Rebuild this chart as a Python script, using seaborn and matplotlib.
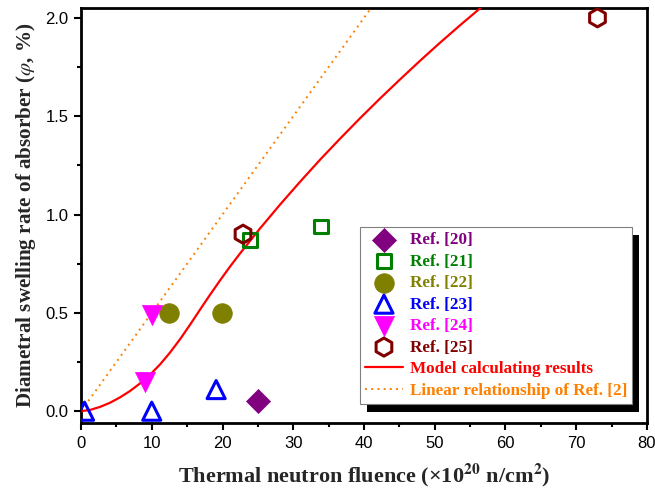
import numpy as np
import pandas as pd
import seaborn as sns
import matplotlib
matplotlib.use("Agg")
import matplotlib.pyplot as plt
from matplotlib.ticker import MultipleLocator
from matplotlib.patches import Rectangle

# Measured swelling data from the literature
ref20_x = [25.0]
ref20_y = [0.05]
ref21_x = [23.9, 33.9]
ref21_y = [0.87, 0.94]
ref22_x = [12.5, 19.9]
ref22_y = [0.50, 0.50]
ref23_x = [0.5, 10.0, 19.1]
ref23_y = [0.00, 0.00, 0.11]
ref24_x = [10.0, 9.0]
ref24_y = [0.49, 0.15]
ref25_x = [22.9, 73.0]
ref25_y = [0.90, 2.00]

# Model calculation results
model_x = [0.0, 1.35, 2.7, 4.1, 5.5, 6.9, 8.3, 9.75, 11.2, 12.6, 14.0, 15.4, 16.8,
           18.2, 19.65, 21.1, 22.5, 25.3, 28.1, 31.0, 33.8, 36.6, 39.4, 42.3,
           45.1, 47.9, 50.7, 53.6, 55.9, 58.0]
model_y = [0.0, 0.007, 0.022, 0.043, 0.070, 0.102, 0.140, 0.185, 0.239, 0.299, 0.366,
           0.439, 0.515, 0.590, 0.665, 0.737, 0.803, 0.929, 1.049, 1.168, 1.279,
           1.385, 1.488, 1.591, 1.687, 1.781, 1.872, 1.963, 2.033, 2.096]

# Linear relationship of Ref. [2]
linear_x = [0.0, 42.0]
linear_y = [0.0, 2.10]

x_ticks = [0, 10, 20, 30, 40, 50, 60, 70, 80]
y_ticks = [0.0, 0.5, 1.0, 1.5, 2.0]

sns.set_theme(style="ticks")
plt.rcParams["font.family"] = ["Liberation Sans", "DejaVu Sans"]
plt.rcParams["mathtext.fontset"] = "stix"

fig = plt.figure(figsize=(6.55, 4.99), dpi=100)
ax = fig.add_axes([81 / 655, 1 - 423 / 499, 566 / 655, 415 / 499])

lw = 2.2
sns.scatterplot(x=ref20_x, y=ref20_y, ax=ax, marker="D", s=150, color="#800080",
                edgecolor="#800080", linewidth=0.5, label="Ref. [20]", zorder=5)
sns.scatterplot(x=ref21_x, y=ref21_y, ax=ax, marker="s", s=95, facecolor="none",
                edgecolor="#008000", linewidth=lw, label="Ref. [21]", zorder=5)
sns.scatterplot(x=ref22_x, y=ref22_y, ax=ax, marker="o", s=200, color="#808000",
                edgecolor="#808000", linewidth=0.5, label="Ref. [22]", zorder=5)
sns.scatterplot(x=ref23_x, y=ref23_y, ax=ax, marker="^", s=170, facecolor="none",
                edgecolor="#0000FF", linewidth=lw, label="Ref. [23]", zorder=5)
sns.scatterplot(x=ref24_x, y=ref24_y, ax=ax, marker="v", s=210, color="#FF00FF",
                edgecolor="#FF00FF", linewidth=0.5, label="Ref. [24]", zorder=5)
sns.scatterplot(x=ref25_x, y=ref25_y, ax=ax, marker="h", s=170, facecolor="none",
                edgecolor="#800000", linewidth=lw, label="Ref. [25]", zorder=5)
sns.lineplot(x=model_x, y=model_y, ax=ax, color="#FF0000", linewidth=1.6,
             label="Model calculating results", sort=False, zorder=4)
sns.lineplot(x=linear_x, y=linear_y, ax=ax, color="#FF8000", linewidth=1.4,
             linestyle=(0, (1, 2.2)), label="Linear relationship of Ref. [2]", zorder=3)

ax.set_xlim(0, 80)
ax.set_ylim(-0.06, 2.05)
ax.set_xticks(x_ticks)
ax.set_yticks(y_ticks)
ax.set_xticklabels([str(v) for v in x_ticks])
ax.set_yticklabels([f"{v:.1f}" for v in y_ticks])
ax.xaxis.set_minor_locator(MultipleLocator(5))
ax.yaxis.set_minor_locator(MultipleLocator(0.25))
ax.tick_params(which="major", direction="out", length=5, width=1.5, labelsize=12,
               colors="black", pad=4)
ax.tick_params(which="minor", direction="out", length=3, width=1.5, colors="black")
for sp in ax.spines.values():
    sp.set_linewidth(2.0)
    sp.set_color("black")

ax.set_xlabel(r"Thermal neutron fluence (×10$^{\mathbf{20}}$ n/cm$^{\mathbf{2}}$)",
              family=["Liberation Serif", "DejaVu Serif"], fontweight="bold",
              fontsize=16, labelpad=8)
ax.set_ylabel(r"Diametral swelling rate of absorber ($\mathit{\varphi}$, %)",
              family=["Liberation Serif", "DejaVu Serif"], fontweight="bold",
              fontsize=15.2, labelpad=5)

text_colors = ["#800080", "#008000", "#808000", "#0000FF", "#FF00FF", "#800000",
               "#FF0000", "#FF8000"]
leg = ax.legend(loc="upper left", bbox_to_anchor=(0.493, 0.472), borderaxespad=0,
                frameon=True, fancybox=False, edgecolor="#808080", framealpha=1,
                prop={"family": "Liberation Serif", "weight": "bold", "size": 12.3},
                labelspacing=0.32, handlelength=2.2, handletextpad=0.4,
                borderpad=0.3)
leg.get_frame().set_linewidth(0.8)
for t, c in zip(leg.get_texts(), text_colors):
    t.set_color(c)
leg.set_zorder(11)
ax.set_zorder(1)

# Solid black drop shadow behind the legend box
fig.canvas.draw()
bb = leg.get_window_extent().transformed(fig.transFigure.inverted())
off_x, off_y = 7 / 655, 8 / 499
ax.add_artist(Rectangle((bb.x0 + off_x, bb.y0 - off_y), bb.width, bb.height,
                        transform=fig.transFigure, facecolor="black",
                        edgecolor="none", zorder=9, clip_on=False))

fig.savefig("out.png", dpi=100)
